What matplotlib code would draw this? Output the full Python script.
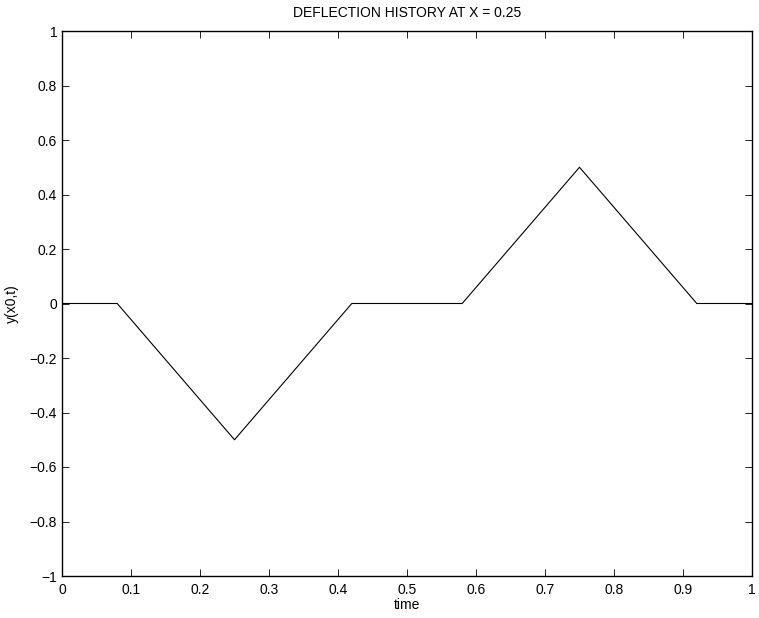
import numpy as np
import matplotlib
matplotlib.use('Agg')
import matplotlib.pyplot as plt

plt.rcParams['font.family'] = ['Liberation Sans', 'DejaVu Sans']

# deflection history points
t = [0, 0.08, 0.25, 0.42, 0.58, 0.75, 0.92, 1.0]
y = [0, 0, -0.5, 0, 0, 0.5, 0, 0]

fig = plt.figure(figsize=(7.59, 6.18), dpi=100)
ax = fig.add_axes([62/759, 1-576/618, (752-62)/759, (576-31)/618])
ax.plot(t, y, color='black', linewidth=0.8)

ax.set_xlim(0, 1)
ax.set_ylim(-1, 1)
ax.set_xticks(np.arange(0, 1.01, 0.1))
ax.set_yticks(np.arange(-1, 1.01, 0.2))
ax.set_xticklabels(['0'] + ['%g' % v for v in np.arange(0.1, 0.95, 0.1)] + ['1'])
ax.set_yticklabels(['\u22121' if abs(v+1) < 1e-9 else ('1' if abs(v-1) < 1e-9 else
                    ('0' if abs(v) < 1e-9 else ('%.1f' % v).replace('-', '\u2212')))
                    for v in np.arange(-1, 1.01, 0.2)])
ax.tick_params(direction='in', top=True, right=True, length=5, width=0.6, labelsize=10)
ax.tick_params(axis='x', pad=5)
for s in ax.spines.values():
    s.set_linewidth(1.0)

ax.set_xlabel('time', fontsize=10, labelpad=1)
ax.set_ylabel('y(x0,t)', fontsize=10, labelpad=8)
ax.set_title('DEFLECTION HISTORY AT X = 0.25', fontsize=10, pad=10)

fig.savefig('out.png', dpi=100)
